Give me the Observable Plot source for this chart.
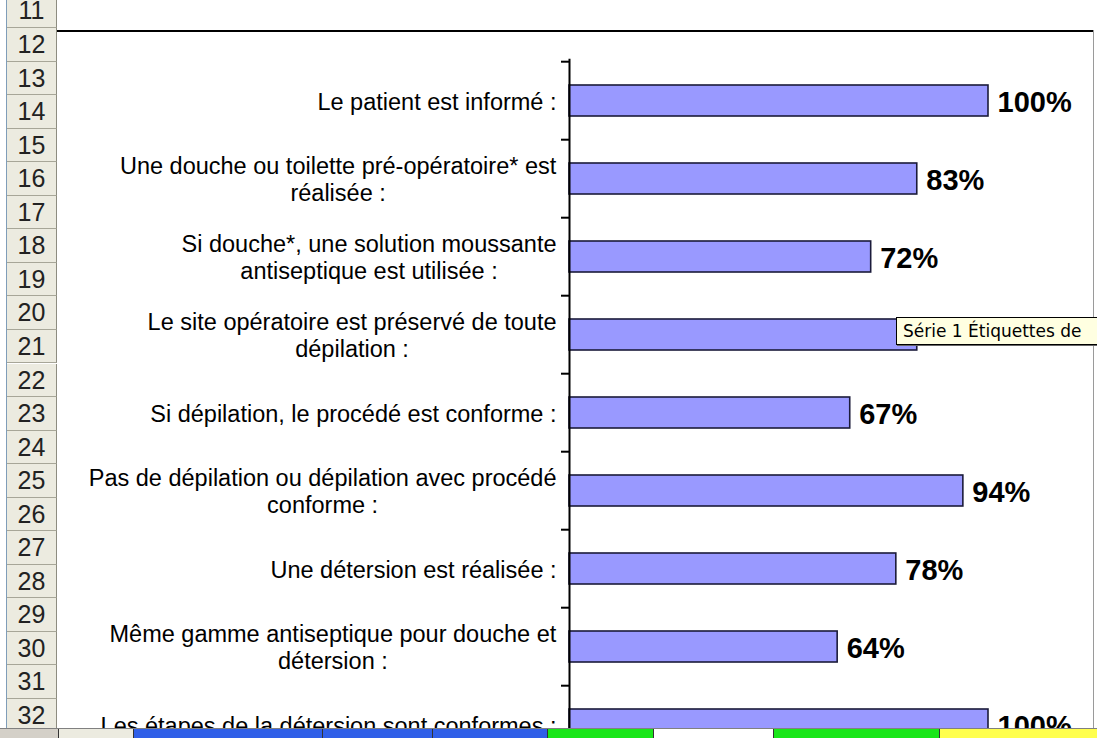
<!DOCTYPE html>
<html>
<head>
<meta charset="utf-8">
<script src="https://cdn.jsdelivr.net/npm/d3@7"></script>
<script src="https://cdn.jsdelivr.net/npm/@observablehq/plot@0.6"></script>
<style>
html, body { margin: 0; padding: 0; background: #fff; }
#wrap { position: relative; width: 1097px; height: 738px; overflow: hidden; background: #fff; }
#edge { position: absolute; left: 6px; top: 0; width: 1px; height: 738px; background: #7f9db9; }
.rowh { position: absolute; left: 7px; width: 50px; box-sizing: border-box; background: #ecebe0;
        border-bottom: 1px solid #a7a698; border-right: 1px solid #8d8c80;
        font-family: "Liberation Sans Narrow", "Arial Narrow", "Liberation Sans", Arial, sans-serif;
        font-size: 25px; color: #222; text-align: center; }
#chart { position: absolute; left: 58px; top: 31px; width: 1035px; height: 707px; overflow: hidden; }
#topline { position: absolute; left: 57px; top: 30px; width: 1037px; height: 2px; background: #000; }
#rightline { position: absolute; left: 1093px; top: 30px; width: 1px; height: 708px; background: #9a9a9a; }
#tip { position: absolute; left: 896px; top: 317px; width: 240px; height: 28px; box-sizing: border-box;
       background: #ffffe1; border: 1px solid #000; box-shadow: 1px 1px 0 #666;
       font-family: "DejaVu Sans", Tahoma, sans-serif; font-size: 17px; line-height: 26px;
       padding-left: 6px; white-space: nowrap; overflow: hidden; color: #000; }
#tabs { position: absolute; left: 0; top: 728px; width: 1097px; height: 10px; background: #d4d0c8;
        border-top: 1px solid #808080; box-sizing: border-box; }
.tab { position: absolute; top: 0; height: 10px; border-left: 1px solid #333; box-sizing: border-box; }
</style>
</head>
<body>
<div id="wrap">
  <div id="edge"></div>
  <div id="rows"></div>
  <div id="chart"></div>
  <div id="topline"></div>
  <div id="rightline"></div>
  <div id="tip">Série 1 Étiquettes de</div>
  <div id="tabs">
    <div class="tab" style="left:0;width:58px;background:#d4d0c8;border-left:none"></div>
    <div class="tab" style="left:58px;width:75px;background:#ecebe0"></div>
    <div class="tab" style="left:133px;width:189px;background:#2f5fe8"></div>
    <div class="tab" style="left:322px;width:110px;background:#2f5fe8"></div>
    <div class="tab" style="left:432px;width:115px;background:#2f5fe8"></div>
    <div class="tab" style="left:547px;width:106px;background:#19e619"></div>
    <div class="tab" style="left:653px;width:120px;background:#ffffff"></div>
    <div class="tab" style="left:773px;width:166px;background:#19e619"></div>
    <div class="tab" style="left:939px;width:158px;background:#ffff4d"></div>
  </div>
</div>
<script>
// ---- data ----
const categories = [
  "Le patient est informé :",
  "Une douche ou toilette pré-opératoire* est réalisée :",
  "Si douche*, une solution moussante antiseptique est utilisée :",
  "Le site opératoire est préservé de toute dépilation :",
  "Si dépilation, le procédé est conforme :",
  "Pas de dépilation ou dépilation avec procédé conforme :",
  "Une détersion est réalisée :",
  "Même gamme antiseptique pour douche et détersion :",
  "Les étapes de la détersion sont conformes :"
];
const labels = [
  "Le patient est informé :",
  "Une douche ou toilette pré-opératoire* est\nréalisée :",
  "Si douche*, une solution moussante\nantiseptique est utilisée :",
  "Le site opératoire est préservé de toute\ndépilation :",
  "Si dépilation, le procédé est conforme :",
  "Pas de dépilation ou dépilation avec procédé\nconforme :",
  "Une détersion est réalisée :",
  "Même gamme antiseptique pour douche et\ndétersion :",
  "Les étapes de la détersion sont conformes :"
];
const values = [1.00, 0.83, 0.72, 0.83, 0.67, 0.94, 0.78, 0.64, 1.00];
const rowNumbers = [11,12,13,14,15,16,17,18,19,20,21,22,23,24,25,26,27,28,29,30,31,32];

// ---- spreadsheet row headers ----
const rowsDiv = document.getElementById("rows");
const rowH = 33.55, row12Top = 28;
rowNumbers.forEach(n => {
  const d = document.createElement("div");
  d.className = "rowh";
  d.style.top = (row12Top + (n - 12) * rowH) + "px";
  d.style.height = rowH + "px";
  d.style.lineHeight = rowH + "px";
  d.textContent = n;
  rowsDiv.appendChild(d);
});

// ---- chart ----
const data = categories.map((c, i) => ({cat: c, label: labels[i], value: values[i]}));
const fmt = d3.format(".0%");
const bandStep = 78.6, mTop = 27.7;
const W = 1035, X0 = 511, X1 = 930;

const chart = Plot.plot({
  width: W,
  height: 740,
  marginTop: mTop,
  marginLeft: X0,
  marginRight: W - X1,
  marginBottom: 0,
  x: {domain: [0, 1], range: [X0, X1], axis: null},
  y: {domain: categories, range: [mTop, mTop + bandStep * categories.length], paddingInner: 0.6, paddingOuter: 0.3, axis: null},
  style: {fontFamily: '"Liberation Sans", Arial, sans-serif', background: "transparent", color: "#000"},
  marks: [
    Plot.barX(data, {x: "value", y: "cat", fill: "#9999ff", stroke: "#1b1b3a", strokeWidth: 1.6}),
    Plot.ruleY(categories, {y: d => d, x1: 0, x2: 0, insetLeft: -8, dy: -bandStep / 2, stroke: "#000", strokeWidth: 2}),
    Plot.ruleX([0], {stroke: "#000", strokeWidth: 2}),
    Plot.text(data, {x: "value", y: "cat", text: d => fmt(d.value), textAnchor: "start", dx: 9, dy: 2, fontSize: 29, fontWeight: "bold", fill: "#000"}),
    Plot.text(data, {x: 0, y: "cat", text: "label", textAnchor: "middle", dx: -13, fontSize: 23.5, lineHeight: 1.13, fill: "#000"})
  ]
});
document.getElementById("chart").appendChild(chart);

// right-align each centred label block against the axis (Excel style):
// the category labels are the last text mark group
const textGroups = chart.querySelectorAll('g[aria-label="text"]');
const catGroup = textGroups[textGroups.length - 1];
catGroup.querySelectorAll("text").forEach(t => {
  const w = t.getBBox().width;
  const tr = t.getAttribute("transform") || "";
  t.setAttribute("transform", `translate(${-w / 2},0) ` + tr);
});
</script>
</body>
</html>
